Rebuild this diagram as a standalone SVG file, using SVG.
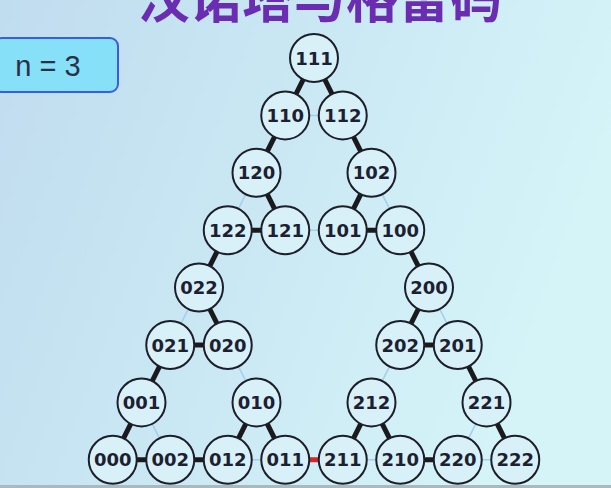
<svg xmlns="http://www.w3.org/2000/svg" width="611" height="488" viewBox="0 0 611 488">
<defs>
<linearGradient id="bg" x1="0" y1="0" x2="1" y2="0.3">
<stop offset="0" stop-color="#c0dcef"/>
<stop offset="1" stop-color="#d4f4f8"/>
</linearGradient>
<style>
.node circle{fill:#d8f0f8;stroke:#1c1e2a;stroke-width:2}
.node text{font-family:"DejaVu Sans",Verdana,sans-serif;font-size:18px;font-weight:bold;fill:#1c2030;text-anchor:middle}
.thick{stroke:#1a1a1e;stroke-width:5;stroke-linecap:butt}
.thin{stroke:#a6cdec;stroke-width:1.5}
.red{stroke:#d42828;stroke-width:5}
</style>
</defs>
<rect width="611" height="488" fill="url(#bg)"/>
<rect x="0" y="485" width="611" height="3" fill="#aab8c0"/>
<text x="320" y="18" font-family="'Noto Sans CJK SC',sans-serif" font-size="52" font-weight="bold" fill="#6a2cb0" text-anchor="middle">汉诺塔与格雷码</text>
<g id="nbox">
<rect x="-6" y="38" width="124" height="54" rx="8" fill="#86e0f8" stroke="#3a5ce0" stroke-width="2"/>
<text x="48" y="76" font-family="'Liberation Sans',Arial,sans-serif" font-size="29" fill="#2a3048" text-anchor="middle">n = 3</text>
</g>
<g id="connectors">
<line class="thick" x1="314" y1="58" x2="285.25" y2="115.4"/>
<line class="thick" x1="314" y1="58" x2="342.75" y2="115.4"/>
<line class="thin" x1="285.25" y1="115.4" x2="342.75" y2="115.4"/>
<line class="thick" x1="285.25" y1="115.4" x2="256.5" y2="172.8"/>
<line class="thick" x1="342.75" y1="115.4" x2="371.5" y2="172.8"/>
<line class="thin" x1="256.5" y1="172.8" x2="227.75" y2="230.2"/>
<line class="thick" x1="256.5" y1="172.8" x2="285.25" y2="230.2"/>
<line class="thick" x1="371.5" y1="172.8" x2="342.75" y2="230.2"/>
<line class="thin" x1="371.5" y1="172.8" x2="400.25" y2="230.2"/>
<line class="thick" x1="227.75" y1="230.2" x2="285.25" y2="230.2"/>
<line class="thin" x1="285.25" y1="230.2" x2="342.75" y2="230.2"/>
<line class="thick" x1="342.75" y1="230.2" x2="400.25" y2="230.2"/>
<line class="thick" x1="227.75" y1="230.2" x2="199" y2="287.6"/>
<line class="thick" x1="400.25" y1="230.2" x2="429" y2="287.6"/>
<line class="thin" x1="199" y1="287.6" x2="170.25" y2="345"/>
<line class="thick" x1="199" y1="287.6" x2="227.75" y2="345"/>
<line class="thick" x1="429" y1="287.6" x2="400.25" y2="345"/>
<line class="thin" x1="429" y1="287.6" x2="457.75" y2="345"/>
<line class="thick" x1="170.25" y1="345" x2="227.75" y2="345"/>
<line class="thick" x1="400.25" y1="345" x2="457.75" y2="345"/>
<line class="thick" x1="170.25" y1="345" x2="141.5" y2="402.4"/>
<line class="thin" x1="227.75" y1="345" x2="256.5" y2="402.4"/>
<line class="thin" x1="400.25" y1="345" x2="371.5" y2="402.4"/>
<line class="thick" x1="457.75" y1="345" x2="486.5" y2="402.4"/>
<line class="thick" x1="141.5" y1="402.4" x2="112.75" y2="459.8"/>
<line class="thin" x1="141.5" y1="402.4" x2="170.25" y2="459.8"/>
<line class="thick" x1="256.5" y1="402.4" x2="227.75" y2="459.8"/>
<line class="thick" x1="256.5" y1="402.4" x2="285.25" y2="459.8"/>
<line class="thick" x1="371.5" y1="402.4" x2="342.75" y2="459.8"/>
<line class="thick" x1="371.5" y1="402.4" x2="400.25" y2="459.8"/>
<line class="thin" x1="486.5" y1="402.4" x2="457.75" y2="459.8"/>
<line class="thick" x1="486.5" y1="402.4" x2="515.25" y2="459.8"/>
<line class="thick" x1="112.75" y1="459.8" x2="170.25" y2="459.8"/>
<line class="thick" x1="170.25" y1="459.8" x2="227.75" y2="459.8"/>
<line class="thin" x1="227.75" y1="459.8" x2="285.25" y2="459.8"/>
<line class="red" x1="285.25" y1="459.8" x2="342.75" y2="459.8"/>
<line class="thin" x1="342.75" y1="459.8" x2="400.25" y2="459.8"/>
<line class="thick" x1="400.25" y1="459.8" x2="457.75" y2="459.8"/>
<line class="thin" x1="457.75" y1="459.8" x2="515.25" y2="459.8"/>
</g>
<g id="n111" class="node"><circle cx="314" cy="58" r="24"/><text x="314" y="64.5">111</text></g>
<g id="n110" class="node"><circle cx="285.25" cy="115.4" r="24"/><text x="285.25" y="121.9">110</text></g>
<g id="n112" class="node"><circle cx="342.75" cy="115.4" r="24"/><text x="342.75" y="121.9">112</text></g>
<g id="n120" class="node"><circle cx="256.5" cy="172.8" r="24"/><text x="256.5" y="179.3">120</text></g>
<g id="n102" class="node"><circle cx="371.5" cy="172.8" r="24"/><text x="371.5" y="179.3">102</text></g>
<g id="n122" class="node"><circle cx="227.75" cy="230.2" r="24"/><text x="227.75" y="236.7">122</text></g>
<g id="n121" class="node"><circle cx="285.25" cy="230.2" r="24"/><text x="285.25" y="236.7">121</text></g>
<g id="n101" class="node"><circle cx="342.75" cy="230.2" r="24"/><text x="342.75" y="236.7">101</text></g>
<g id="n100" class="node"><circle cx="400.25" cy="230.2" r="24"/><text x="400.25" y="236.7">100</text></g>
<g id="n022" class="node"><circle cx="199" cy="287.6" r="24"/><text x="199" y="294.1">022</text></g>
<g id="n200" class="node"><circle cx="429" cy="287.6" r="24"/><text x="429" y="294.1">200</text></g>
<g id="n021" class="node"><circle cx="170.25" cy="345" r="24"/><text x="170.25" y="351.5">021</text></g>
<g id="n020" class="node"><circle cx="227.75" cy="345" r="24"/><text x="227.75" y="351.5">020</text></g>
<g id="n202" class="node"><circle cx="400.25" cy="345" r="24"/><text x="400.25" y="351.5">202</text></g>
<g id="n201" class="node"><circle cx="457.75" cy="345" r="24"/><text x="457.75" y="351.5">201</text></g>
<g id="n001" class="node"><circle cx="141.5" cy="402.4" r="24"/><text x="141.5" y="408.9">001</text></g>
<g id="n010" class="node"><circle cx="256.5" cy="402.4" r="24"/><text x="256.5" y="408.9">010</text></g>
<g id="n212" class="node"><circle cx="371.5" cy="402.4" r="24"/><text x="371.5" y="408.9">212</text></g>
<g id="n221" class="node"><circle cx="486.5" cy="402.4" r="24"/><text x="486.5" y="408.9">221</text></g>
<g id="n000" class="node"><circle cx="112.75" cy="459.8" r="24"/><text x="112.75" y="466.3">000</text></g>
<g id="n002" class="node"><circle cx="170.25" cy="459.8" r="24"/><text x="170.25" y="466.3">002</text></g>
<g id="n012" class="node"><circle cx="227.75" cy="459.8" r="24"/><text x="227.75" y="466.3">012</text></g>
<g id="n011" class="node"><circle cx="285.25" cy="459.8" r="24"/><text x="285.25" y="466.3">011</text></g>
<g id="n211" class="node"><circle cx="342.75" cy="459.8" r="24"/><text x="342.75" y="466.3">211</text></g>
<g id="n210" class="node"><circle cx="400.25" cy="459.8" r="24"/><text x="400.25" y="466.3">210</text></g>
<g id="n220" class="node"><circle cx="457.75" cy="459.8" r="24"/><text x="457.75" y="466.3">220</text></g>
<g id="n222" class="node"><circle cx="515.25" cy="459.8" r="24"/><text x="515.25" y="466.3">222</text></g>
</svg>
